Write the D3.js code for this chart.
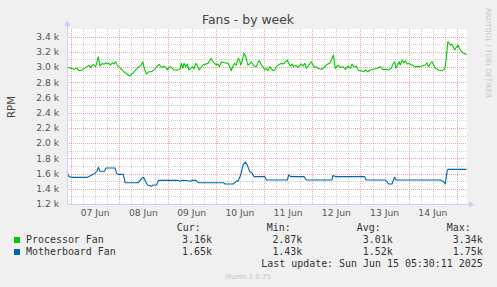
<!DOCTYPE html>
<html>
<head>
<meta charset="utf-8">
<script src="https://cdn.jsdelivr.net/npm/d3@7"></script>
<style>
  html, body { margin: 0; padding: 0; background: #F0F0F0; }
  svg { display: block; }
</style>
</head>
<body>
<svg id="chart" width="497" height="287"></svg>
<script>
// ---------------- DATA ----------------
const chartTitle = "Fans - by week";
const yAxisLabel = "RPM";
const startTime = "2025-06-06T22:00:00Z";
const endTime = "2025-06-15T05:00:00Z";
const yTicks = [1200, 1400, 1600, 1800, 2000, 2200, 2400, 2600, 2800, 3000, 3200, 3400];
const yTickLabels = ["1.2 k", "1.4 k", "1.6 k", "1.8 k", "2.0 k", "2.2 k", "2.4 k", "2.6 k", "2.8 k", "3.0 k", "3.2 k", "3.4 k"];
const dayLabels = ["07 Jun", "08 Jun", "09 Jun", "10 Jun", "11 Jun", "12 Jun", "13 Jun", "14 Jun"];

// hours since startTime
const procHours = [0, 1.8, 3.5, 5.1, 6.0, 7.6, 9.3, 10.9, 11.8, 13.1, 14.3, 15.6, 16.4, 17.6, 18.4, 19.3, 20.0, 20.9, 21.7, 22.5, 23.4, 24.2, 25.0, 26.7, 28.4, 30.0, 31.2, 32.5, 34.2, 35.8, 37.0, 37.7, 38.7, 39.5, 40.8, 41.9, 43.3, 44.6, 45.8, 46.6, 47.4, 48.3, 49.1, 49.9, 50.7, 51.6, 52.4, 53.2, 54.9, 56.2, 56.9, 57.6, 58.2, 59.1, 59.8, 60.7, 61.5, 62.3, 63.2, 64.0, 64.8, 65.7,
  67.7, 70.1, 71.0, 71.8, 72.6, 74.3, 75.1, 75.9, 76.8, 78.5, 80.1, 81.0, 81.7, 82.6, 83.4, 84.2, 85.1, 85.9, 86.4, 87.2, 88.1, 88.9, 90.0, 90.9, 91.7, 93.0, 94.2, 95.4, 96.0, 96.7, 97.5, 98.4, 99.2, 100.0, 100.8, 102.5, 103.3, 104.1, 105.0, 106.6, 107.5, 108.3, 109.6, 110.3, 111.3, 111.9, 112.8, 113.8, 114.9, 116.6, 117.4, 118.3, 119.1, 119.9, 120.7, 121.5, 122.4, 123.2, 124.0, 124.9, 126.5, 127.4, 129.0, 129.8, 130.7, 131.5, 132.5,
  133.5, 134.8, 136.0, 137.2, 138.5, 139.8, 140.9, 141.8, 142.6, 143.8, 145.1, 146.4, 147.6, 148.4, 149.7, 150.9, 152.6, 154.2, 155.9, 157.1, 158.4, 160.0, 161.3, 162.2, 163.0, 163.7, 164.5, 165.3, 165.8, 166.7, 167.5, 168.3, 169.2, 170.0, 171.6, 173.3, 175.0, 176.6, 178.3, 179.1, 179.9, 180.7, 181.6, 182.4, 183.2, 184.9, 186.6, 187.9, 188.6, 189.5, 190.7, 191.5, 192.9, 193.7, 194.5, 195.7, 196.9, 198.2, 198.8];
const procRPM = [2996, 2987, 2970, 2983, 2952, 2961, 2996, 3022, 2996, 3035, 3005, 3136, 3013, 3048, 3035, 3057, 3040, 3048, 3026, 3057, 3040, 3070, 3022, 2983, 2935, 2905, 2880, 2915, 2961, 3005, 3026, 3070, 2961, 2908, 2939, 2939, 2961, 3005, 3035, 3005, 2996, 3013, 2996, 2961, 2996, 3005, 2983, 2961, 2961, 2970, 3048, 2983, 3048, 3005, 3040, 2961, 2983, 3005, 2974, 3048, 3026, 2961,
  3026, 3048, 3083, 3114, 3070, 3026, 3040, 3005, 3070, 3057, 3048, 3005, 2952, 3013, 3048, 3026, 3114, 3083, 3026, 3092, 3180, 3136, 3026, 3040, 3070, 3013, 3005, 3083, 3070, 3026, 3005, 2961, 2983, 2952, 3005, 2952, 2961, 3005, 3026, 3048, 3040, 3057, 3092, 3048, 3013, 3040, 3005, 3026, 2996, 3040, 3013, 3048, 2983, 3005, 3040, 3070, 3026, 2996, 3005, 2983, 2970, 2983, 3026, 3040, 3048, 3092, 3158,
  2983, 3026, 2996, 3005, 2970, 3013, 2983, 3040, 3005, 3013, 2952, 2952, 2939, 2961, 2939, 2961, 2970, 2983, 3005, 2970, 2970, 2961, 2983, 3040, 3070, 2983, 3026, 3070, 3026, 3092, 3057, 3083, 3040, 3048, 3026, 3005, 3005, 3013, 3026, 3057, 3005, 3040, 3070, 3026, 2983, 2961, 2952, 2970, 3092, 3335, 3289, 3302, 3224, 3259, 3289, 3224, 3189, 3171, 3160];

const mbHours = [0, 1.0, 2.6, 10.1, 10.9, 13.1, 14.8, 15.6, 16.4, 18.6, 19.4, 23.9, 24.7, 25.4, 28.0, 28.9, 35.5, 37.2, 38.0, 39.2, 40.0, 42.1, 42.9, 44.6, 45.4, 55.2, 56.2, 57.2, 60.2, 61.2, 62.2, 64.2, 65.3, 77.8, 78.6, 82.7, 84.4, 85.1, 86.4, 87.6, 88.7, 89.7, 90.9, 92.0, 93.0, 98.4, 99.2, 109.6, 110.3, 111.3, 117.9, 119.1, 131.8, 132.3, 133.5, 148.1, 148.8, 158.4, 159.2, 160.0, 161.7, 162.5, 163.0, 163.7, 185.7, 187.4, 188.2, 189.1, 189.5, 198.8];
const mbRPM = [1620, 1560, 1550, 1550, 1560, 1590, 1625, 1682, 1630, 1630, 1673, 1673, 1603, 1590, 1590, 1480, 1480, 1540, 1550, 1493, 1450, 1435, 1450, 1450, 1511, 1511, 1500, 1511, 1505, 1500, 1511, 1511, 1480, 1480, 1463, 1463, 1500, 1500, 1581, 1712, 1750, 1712, 1625, 1612, 1560, 1560, 1515, 1515, 1581, 1560, 1560, 1515, 1515, 1575, 1560, 1560, 1515, 1515, 1494, 1463, 1463, 1524, 1550, 1515, 1515, 1494, 1463, 1625, 1655, 1655];

const seriesNames = ["Processor Fan", "Motherboard Fan"];
const seriesColors = ["#00CC00", "#0066B3"];
const curValues = ["3.16k", "1.65k"];
const minValues = ["2.87k", "1.43k"];
const avgValues = ["3.01k", "1.52k"];
const maxValues = ["3.34k", "1.75k"];
const lastUpdate = "Last update: Sun Jun 15 05:30:11 2025";
const footer = "Munin 2.0.75";
const sideText = "RRDTOOL / TOBI OETIKER";

// ---------------- DRAW ----------------
const svg = d3.select("#chart");
const W = 497, H = 287;
const plot = { left: 67, right: 467, top: 29, bottom: 204 };

const t0 = new Date(startTime);
const toDate = h => new Date(t0.getTime() + h * 3600000);

const x = d3.scaleUtc().domain([t0, new Date(endTime)]).range([plot.left, plot.right]);
const y = d3.scaleLinear().domain([1200, 3500]).range([plot.bottom, plot.top]);

svg.append("rect").attr("width", W).attr("height", H).attr("fill", "#F0F0F0");
svg.append("rect").attr("x", plot.left).attr("y", plot.top)
  .attr("width", plot.right - plot.left).attr("height", plot.bottom - plot.top).attr("fill", "#FFFFFF");

const minorColor = "rgba(150,150,150,0.45)";
const majorColor = "rgba(222,90,90,0.55)";
const grid = svg.append("g").attr("shape-rendering", "crispEdges");

// horizontal minor grid
d3.range(1300, 3500, 200).forEach(v => {
  const yy = Math.round(y(v)) + 0.5;
  grid.append("line").attr("x1", plot.left).attr("x2", plot.right).attr("y1", yy).attr("y2", yy)
    .attr("stroke", minorColor).attr("stroke-dasharray", "1,1");
});
// vertical minor grid (6h)
const minorTimes = d3.utcHour.every(6).range(x.domain()[0], x.domain()[1]).filter(d => d.getUTCHours() !== 0);
minorTimes.forEach(d => {
  const xx = Math.round(x(d)) + 0.5;
  grid.append("line").attr("x1", xx).attr("x2", xx).attr("y1", plot.top).attr("y2", plot.bottom)
    .attr("stroke", minorColor).attr("stroke-dasharray", "1,1");
});
// horizontal major grid
yTicks.forEach(v => {
  const yy = Math.round(y(v)) + 0.5;
  grid.append("line").attr("x1", plot.left).attr("x2", plot.right).attr("y1", yy).attr("y2", yy)
    .attr("stroke", majorColor).attr("stroke-dasharray", "1,1");
});
// vertical major grid (days)
const days = d3.utcDay.range(x.domain()[0], x.domain()[1]);
days.forEach(d => {
  const xx = Math.round(x(d)) + 0.5;
  grid.append("line").attr("x1", xx).attr("x2", xx).attr("y1", plot.top).attr("y2", plot.bottom)
    .attr("stroke", majorColor).attr("stroke-dasharray", "1,1");
});

// y tick labels
const tickFont = "DejaVu Sans, sans-serif";
yTicks.forEach((v, i) => {
  svg.append("text").attr("x", 59).attr("y", y(v)).attr("dy", "0.36em")
    .attr("text-anchor", "end").attr("font-family", tickFont).attr("font-size", 9.2)
    .attr("fill", "#555").text(yTickLabels[i]);
});
// x day labels centered at noon
days.forEach((d, i) => {
  const noon = new Date(d.getTime() + 12 * 3600000);
  if (i < dayLabels.length) {
    svg.append("text").attr("x", x(noon)).attr("y", 215.5)
      .attr("text-anchor", "middle").attr("font-family", tickFont).attr("font-size", 9.2)
      .attr("fill", "#555").text(dayLabels[i]);
  }
});

// series lines
const line = d3.line().x(d => x(d.t)).y(d => y(d.v));
const procData = procHours.map((h, i) => ({ t: toDate(h), v: procRPM[i] }));
const mbData = mbHours.map((h, i) => ({ t: toDate(h), v: mbRPM[i] }));
[procData, mbData].forEach((data, i) => {
  svg.append("path").datum(data).attr("d", line).attr("fill", "none")
    .attr("stroke", seriesColors[i]).attr("stroke-width", 1.1).attr("stroke-linejoin", "round");
});

// axes
const axisColor = "#C8CEF5";
svg.append("line").attr("x1", plot.left + 0.5).attr("x2", plot.left + 0.5).attr("y1", plot.bottom).attr("y2", 24)
  .attr("stroke", axisColor);
svg.append("path").attr("d", `M${plot.left - 2.5},26 L${plot.left + 0.5},20.5 L${plot.left + 3.5},26 Z`).attr("fill", axisColor);
svg.append("line").attr("x1", plot.left).attr("x2", plot.right + 4).attr("y1", plot.bottom + 0.5).attr("y2", plot.bottom + 0.5)
  .attr("stroke", axisColor);
svg.append("path").attr("d", `M${plot.right + 2},${plot.bottom - 2.5} L${plot.right + 7.5},${plot.bottom + 0.5} L${plot.right + 2},${plot.bottom + 3.5} Z`).attr("fill", axisColor);

// title
svg.append("text").attr("x", 248).attr("y", 24).attr("text-anchor", "middle")
  .attr("font-family", tickFont).attr("font-size", 12.4).attr("fill", "#444").text(chartTitle);
// y label
svg.append("text").attr("transform", "translate(15,107) rotate(-90)").attr("text-anchor", "middle")
  .attr("font-family", tickFont).attr("font-size", 10.2).attr("fill", "#444").text(yAxisLabel);
// side text
svg.append("text").attr("transform", "translate(486,53) rotate(90)").attr("text-anchor", "middle")
  .attr("font-family", tickFont).attr("font-size", 7).attr("fill", "#C8C8C8").text(sideText);

// legend
const mono = "DejaVu Sans Mono, monospace";
const lg = svg.append("g").attr("font-family", mono).attr("font-size", 9.95).attr("fill", "#333");
const headerX = [176.7, 266.7, 356.7, 446.7];
["Cur:", "Min:", "Avg:", "Max:"].forEach((h, i) => {
  lg.append("text").attr("x", headerX[i]).attr("y", 231).text(h);
});
const valueX = [212, 302.3, 392.7, 482.7];
seriesNames.forEach((name, i) => {
  const by = 243 + i * 12;
  lg.append("rect").attr("x", 14).attr("y", by - 6).attr("width", 6).attr("height", 6).attr("fill", seriesColors[i]);
  lg.append("text").attr("x", 26).attr("y", by).text(name);
  [curValues, minValues, avgValues, maxValues].forEach((arr, j) => {
    lg.append("text").attr("x", valueX[j]).attr("y", by).attr("text-anchor", "end").text(arr[i]);
  });
});
lg.append("text").attr("x", 482.7).attr("y", 267).attr("text-anchor", "end").text(lastUpdate);
svg.append("text").attr("x", 248).attr("y", 279).attr("text-anchor", "middle")
  .attr("font-family", tickFont).attr("font-size", 7).attr("fill", "#C8C8C8").text(footer);
</script>
</body>
</html>
